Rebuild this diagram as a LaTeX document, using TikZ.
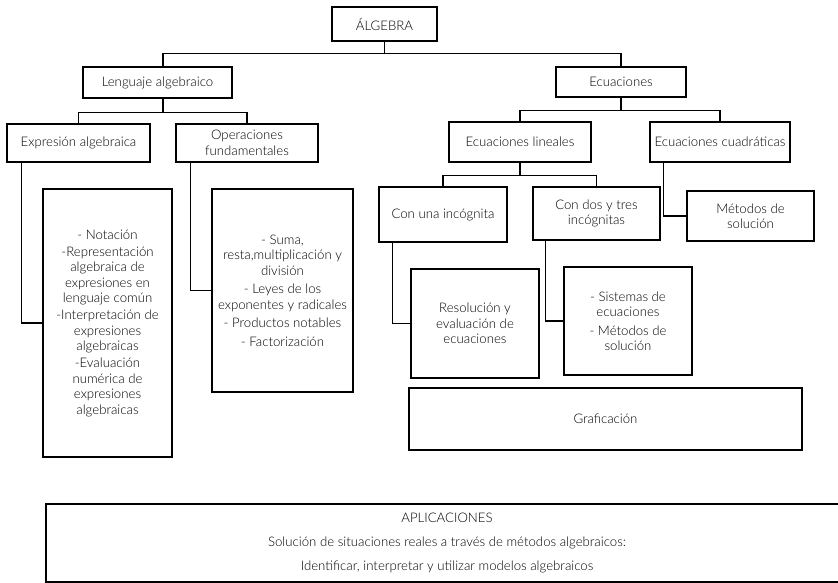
\documentclass[tikz,border=0pt]{standalone}
\usepackage{fontspec}
\setmainfont{Lato Light}
\begin{document}
\begin{tikzpicture}[x=1pt,y=-1pt,
  box/.style={draw, line width=1.2pt, inner sep=0pt, align=center,
    font=\fontsize{13.2}{15.5}\selectfont},
  link/.style={line width=1.2pt}]
\useasboundingbox (0,0) rectangle (838,582);

% tree of topics
\node[box, minimum width=105pt, minimum height=34pt] (alg) at (384.5,24) {ÁLGEBRA};
\node[box, minimum width=149pt, minimum height=31pt] (leng) at (157.5,82.5) {Lenguaje algebraico};
\node[box, minimum width=130pt, minimum height=30pt] (ecu) at (621,82) {Ecuaciones};
\node[box, minimum width=143pt, minimum height=38pt] (expr) at (78.5,143) {Expresión algebraica};
\node[box, minimum width=142pt, minimum height=38pt] (oper) at (247,143) {Operaciones\\fundamentales};
\node[box, minimum width=142pt, minimum height=40pt] (lin) at (520,142) {Ecuaciones lineales};
\node[box, minimum width=140pt, minimum height=40pt] (cuad) at (720,142) {Ecuaciones cuadráticas};
\node[box, minimum width=128pt, minimum height=55pt] (una) at (443,214.5) {Con una incógnita};
\node[box, minimum width=127pt, minimum height=53pt] (dos) at (596.5,213.5) {Con dos y tres\\incógnitas};
\node[box, minimum width=127pt, minimum height=50pt] (met) at (750.5,216) {Métodos de\\solución};

% content boxes
\node[box, minimum width=129pt, minimum height=268pt] (nota) at (107.5,323)
  {- Notación\\[1.5pt]-Representación\\algebraica de\\expresiones en\\lenguaje común\\[1.5pt]-Interpretación de\\expresiones\\algebraicas\\[1.5pt]-Evaluación\\numérica de\\expresiones\\algebraicas};
\node[box, minimum width=141pt, minimum height=203pt] (suma) at (282.5,290.5)
  {- Suma,\\resta,multiplicación y\\división\\[3pt]- Leyes de los\\exponentes y radicales\\[3pt]- Productos notables\\[3pt]- Factorización};
\node[box, minimum width=128pt, minimum height=109pt] (res) at (475,323.5)
  {Resolución y\\evaluación de\\ecuaciones};
\node[box, minimum width=128pt, minimum height=108pt] (sis) at (628,321)
  {- Sistemas de\\ecuaciones\\[3pt]- Métodos de\\solución};
\node[box, minimum width=393pt, minimum height=62pt] (graf) at (605.5,419) {Graficación};
\node[box, minimum width=802pt, minimum height=78pt,
  font=\fontsize{13.2}{24}\selectfont] (apl) at (447,543)
  {APLICACIONES\\Solución de situaciones reales a través de métodos algebraicos:\\Identificar, interpretar y utilizar modelos algebraicos};

% tree connectors
\draw[link] (alg.south) -- ++(0,12) -| ([xshift=5.5pt]leng.north);
\draw[link] (alg.south) ++(0,12) -| (ecu.north);
\draw[link] ([xshift=5.5pt]leng.south) -- ++(0,14) -| (expr.north);
\draw[link] ([xshift=5.5pt]leng.south) ++(0,14) -| (oper.north);
\draw[link] (ecu.south) -- ++(0,13) -| (lin.north);
\draw[link] (ecu.south) ++(0,13) -| (cuad.north);
\draw[link] (lin.south) -- ++(0,13) -| (una.north);
\draw[link] (lin.south) ++(0,13) -| (dos.north);

% side connectors to the content boxes
\draw[link] ([xshift=15pt]expr.south west) |- (nota.west);
\draw[link] ([xshift=15pt]oper.south west) |- (suma.west);
\draw[link] ([xshift=14pt]cuad.south west) |- (met.west);
\draw[link] ([xshift=14pt]una.south west) |- (res.west);
\draw[link] ([xshift=13pt]dos.south west) |- (sis.west);
\end{tikzpicture}
\end{document}
